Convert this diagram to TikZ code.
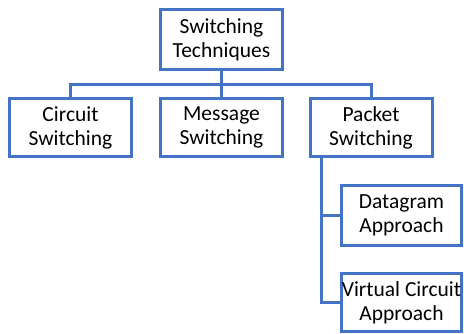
\documentclass[tikz,border=0pt]{standalone}
\usepackage{fontspec}
\setmainfont{Carlito}
\definecolor{boxblue}{RGB}{68,114,196}
\begin{document}
\begin{tikzpicture}[x=1pt,y=1pt,
  box/.style={draw=boxblue,line width=3pt,fill=white,align=center,inner sep=0pt,
    minimum width=122pt,minimum height=60pt,font=\fontsize{21.5}{24}\selectfont},
  link/.style={draw=boxblue,line width=3pt}]
\useasboundingbox (0,0) rectangle (464,334);
\node[box] (top) at (221.5,294.5) {Switching\\Techniques};
\node[box,minimum height=58pt] (circ) at (70.5,206.5) {Circuit\\Switching};
\node[box,minimum height=58pt] (mess) at (221.5,206.5) {Message\\Switching};
\node[box,minimum height=58pt] (pack) at (371,206.5) {Packet\\Switching};
\node[box,minimum width=120pt] (data) at (401.5,118.5) {Datagram\\Approach};
\node[box,minimum width=120pt,minimum height=58pt] (virt) at (401.5,31.5) {Virtual Circuit\\Approach};
\coordinate (bus) at (0,249);
\draw[link] (top.south) -- (top.south |- bus);
\draw[link] (circ.north) |- (top.south |- bus) -| (pack.north);
\draw[link] (mess.north) -- (mess.north |- bus);
\draw[link] ([xshift=13pt]pack.south west) |- (data.west);
\draw[link] ([xshift=13pt]pack.south west) |- (virt.west);
\end{tikzpicture}
\end{document}
